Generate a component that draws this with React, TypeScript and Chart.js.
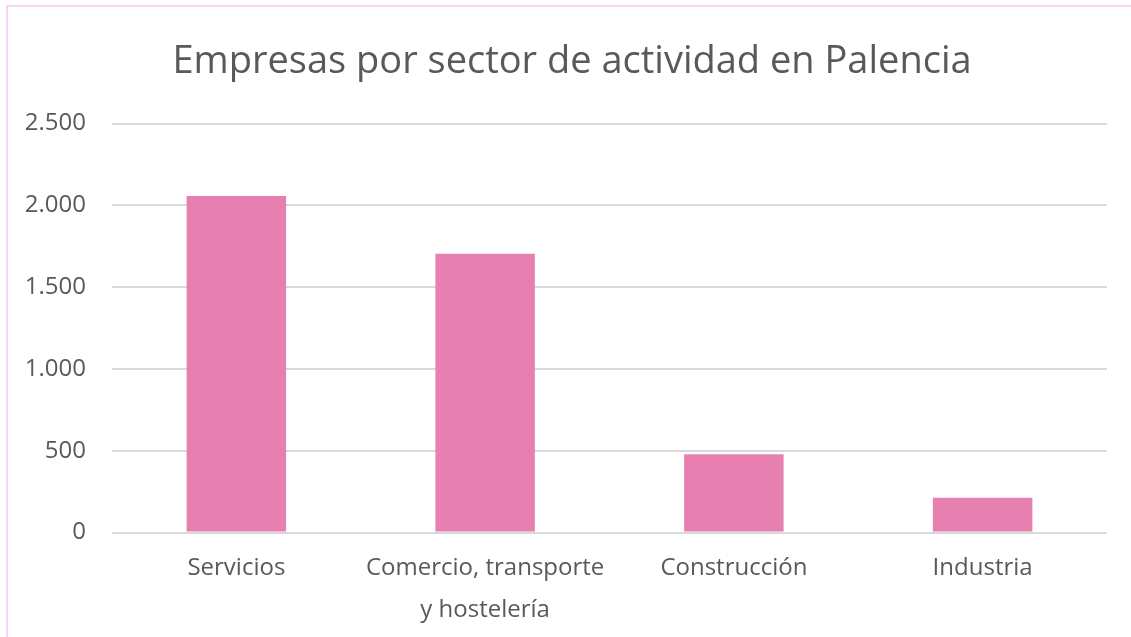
import React, { useEffect, useRef } from "react";
import { Chart, registerables } from "chart.js";

Chart.register(...registerables);

const categories: (string | string[])[] = [
  "Servicios",
  ["Comercio, transporte", "y hostelería"],
  "Construcción",
  "Industria",
];
const empresas: number[] = [2058, 1705, 478, 212];
const yTicks: number[] = [0, 500, 1000, 1500, 2000, 2500];
const titleText = "Empresas por sector de actividad en Palencia";

const TEXT = "#595959";
const FONT = "'Open Sans', 'Noto Sans', sans-serif";
const TITLE_SIZE = 38;

const titleDrawer = {
  id: "titleDrawer",
  afterDraw(chart: any) {
    const tb = chart.titleBlock;
    if (!tb) return;
    const ctx = chart.ctx;
    ctx.save();
    ctx.fillStyle = TEXT;
    ctx.font = `normal ${TITLE_SIZE}px ${FONT}`;
    ctx.textAlign = "center";
    ctx.textBaseline = "middle";
    const y = tb.top + (tb.options.padding.top ?? 0) + (TITLE_SIZE * 1.2) / 2;
    ctx.fillText(titleText, 572, y);
    ctx.restore();
  },
};

export default function App() {
  const ref = useRef<HTMLCanvasElement | null>(null);

  useEffect(() => {
    if (!ref.current) return;
    const chart = new Chart(ref.current, {
      type: "bar",
      data: {
        labels: categories,
        datasets: [
          {
            label: "Empresas",
            data: empresas,
            backgroundColor: "#E780B0",
            borderWidth: 0,
            barPercentage: 0.4,
            categoryPercentage: 1,
          },
        ],
      },
      plugins: [titleDrawer],
      options: {
        animation: false,
        responsive: false,
        maintainAspectRatio: false,
        layout: { padding: { left: 0, right: 24, top: 36, bottom: 0 } },
        plugins: {
          legend: { display: false },
          tooltip: { enabled: false },
          title: {
            display: true,
            text: titleText,
            color: "rgba(0,0,0,0)",
            font: { family: FONT, size: TITLE_SIZE, weight: "normal", lineHeight: 1.2 },
            padding: { top: 3, bottom: 39 },
          },
        },
        scales: {
          x: {
            grid: { display: false, drawTicks: false },
            border: { display: false },
            ticks: {
              color: TEXT,
              font: { family: FONT, size: 24, lineHeight: 1.75 },
              padding: 15,
              maxRotation: 0,
              autoSkip: false,
            },
            afterFit: (scale: any) => {
              scale.height = 104.5;
            },
          },
          y: {
            min: 0,
            max: 2500,
            afterBuildTicks: (scale: any) => {
              scale.ticks = yTicks.map((v) => ({ value: v }));
            },
            grid: { color: "#D9D9D9", lineWidth: 2, drawTicks: false },
            border: { display: false },
            ticks: {
              color: TEXT,
              font: { family: FONT, size: 24 },
              padding: 26,
              callback: (v: any) => Number(v).toLocaleString("de-DE"),
            },
            afterFit: (scale: any) => {
              scale.width = 112;
            },
          },
        },
      },
    });
    return () => chart.destroy();
  }, []);

  return (
    <div
      style={{
        position: "fixed",
        left: 0,
        top: 0,
        width: 1131,
        height: 637,
        background: "#fff",
        overflow: "hidden",
      }}
    >
      <div
        style={{
          position: "absolute",
          left: 6,
          top: 5,
          width: 1200,
          height: 700,
          border: "2px solid #F9D2F4",
          boxSizing: "border-box",
        }}
      />
      <canvas
        ref={ref}
        width={1131}
        height={637}
        style={{ position: "absolute", left: 0, top: 0, width: 1131, height: 637 }}
      />
    </div>
  );
}
